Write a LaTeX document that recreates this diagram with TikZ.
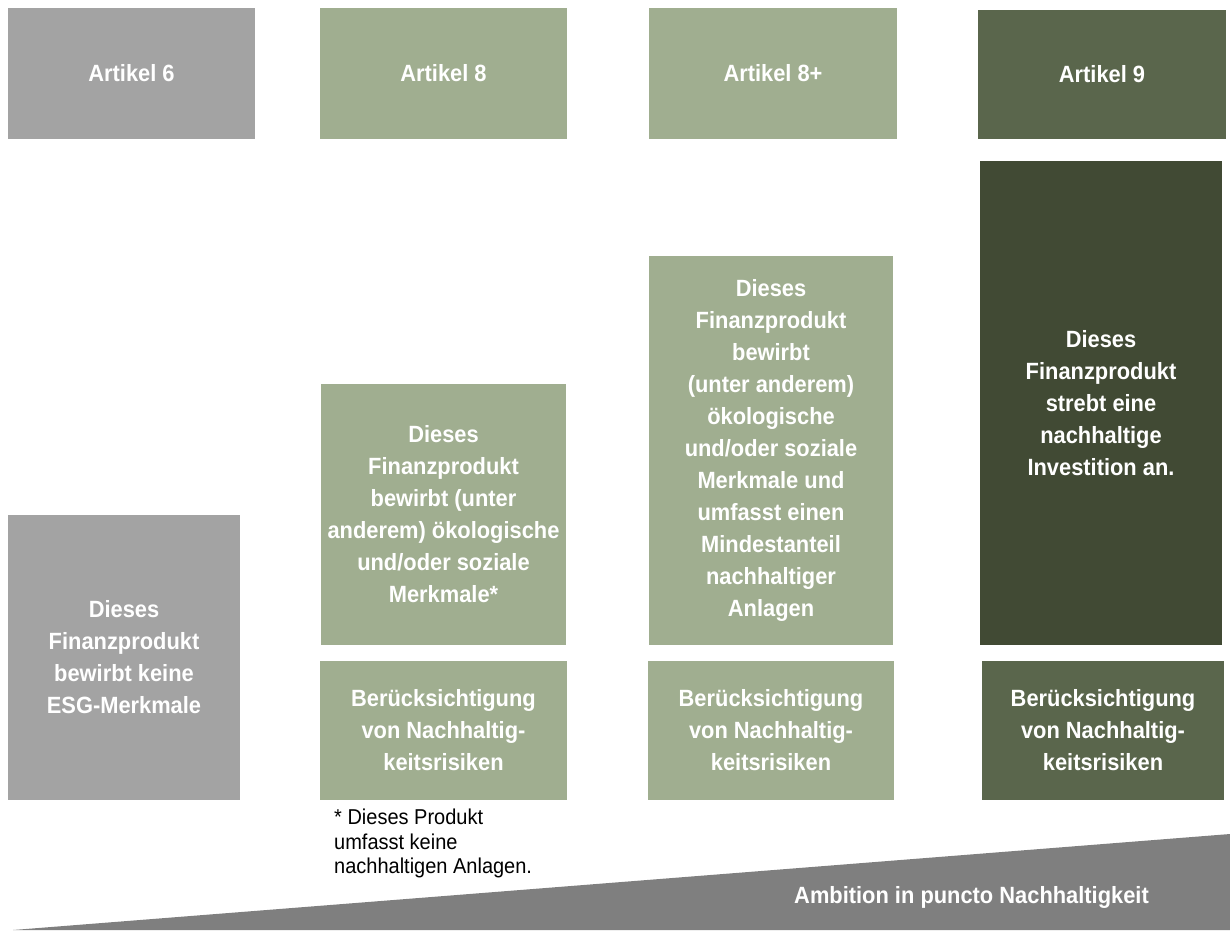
\documentclass[tikz,border=0pt]{standalone}
\usepackage{fontspec}
\setmainfont{Liberation Sans}[FakeStretch=0.93]
\newfontfamily\notefont{Liberation Sans}[FakeStretch=0.93]

\definecolor{artgray}{HTML}{A3A3A3}
\definecolor{artlight}{HTML}{A0AE90}
\definecolor{artmid}{HTML}{5A664C}
\definecolor{artdark}{HTML}{414A34}
\definecolor{wedgegray}{HTML}{7F7F7F}

\begin{document}
\begin{tikzpicture}[x=1pt, y=-1pt,
  box/.style={inner sep=0pt, outer sep=0pt, align=center, text=white,
    font=\fontsize{23.5}{32}\selectfont\bfseries},
  header/.style={box, minimum height=131pt}]
\useasboundingbox (0,0) rectangle (1230,930);

% rising band at the bottom
\fill[wedgegray] (13,930) -- (1230,834) -- (1230,930) -- cycle;
\node[anchor=base, text=white, inner sep=0pt,
  font=\fontsize{23.5}{28}\selectfont\bfseries] (amb) at (971.5,903)
  {Ambition in puncto Nachhaltigkeit};

% column headers
\node[header, fill=artgray,  minimum width=247pt] (h6)  at (131.5,73.5) {Artikel 6};
\node[header, fill=artlight, minimum width=247pt] (h8)  at (443.5,73.5) {Artikel 8};
\node[header, fill=artlight, minimum width=248pt] (h8p) at (773,73.5)   {Artikel 8+};
\node[header, fill=artmid,   minimum width=248pt, minimum height=129pt] (h9) at (1102,74.5) {Artikel 9};

% Artikel 6
\node[box, fill=artgray, minimum width=232pt, minimum height=285pt] (b6) at (124,657.5)
  {Dieses\\Finanzprodukt\\bewirbt keine\\ESG-Merkmale};

% Artikel 8
\node[box, fill=artlight, minimum width=245pt, minimum height=261pt] (b8) at (443.5,514.5)
  {Dieses\\Finanzprodukt\\bewirbt (unter\\anderem) ökologische\\und/oder soziale\\Merkmale*};
\node[box, fill=artlight, minimum width=247pt, minimum height=139pt] (r8) at (443.5,730.5)
  {Berücksichtigung\\von Nachhaltig-\\keitsrisiken};

% Artikel 8+
\node[box, fill=artlight, minimum width=244pt, minimum height=389pt] (b8p) at (771,450.5)
  {Dieses\\Finanzprodukt\\bewirbt\\(unter anderem)\\ökologische\\und/oder soziale\\Merkmale und\\umfasst einen\\Mindestanteil\\nachhaltiger\\Anlagen};
\node[box, fill=artlight, minimum width=246pt, minimum height=139pt] (r8p) at (771,730.5)
  {Berücksichtigung\\von Nachhaltig-\\keitsrisiken};

% Artikel 9
\node[box, fill=artdark, minimum width=242pt, minimum height=484pt] (b9) at (1101,403)
  {Dieses\\Finanzprodukt\\strebt eine\\nachhaltige\\Investition an.};
\node[box, fill=artmid, minimum width=242pt, minimum height=139pt] (r9) at (1103,730.5)
  {Berücksichtigung\\von Nachhaltig-\\keitsrisiken};

% footnote to Artikel 8
\node[anchor=north west, align=left, inner sep=0pt, text=black,
  font=\notefont\fontsize{21.5}{24.5}\selectfont] (note) at (334,809)
  {* Dieses Produkt\\umfasst keine\\nachhaltigen Anlagen.};
\end{tikzpicture}
\end{document}
